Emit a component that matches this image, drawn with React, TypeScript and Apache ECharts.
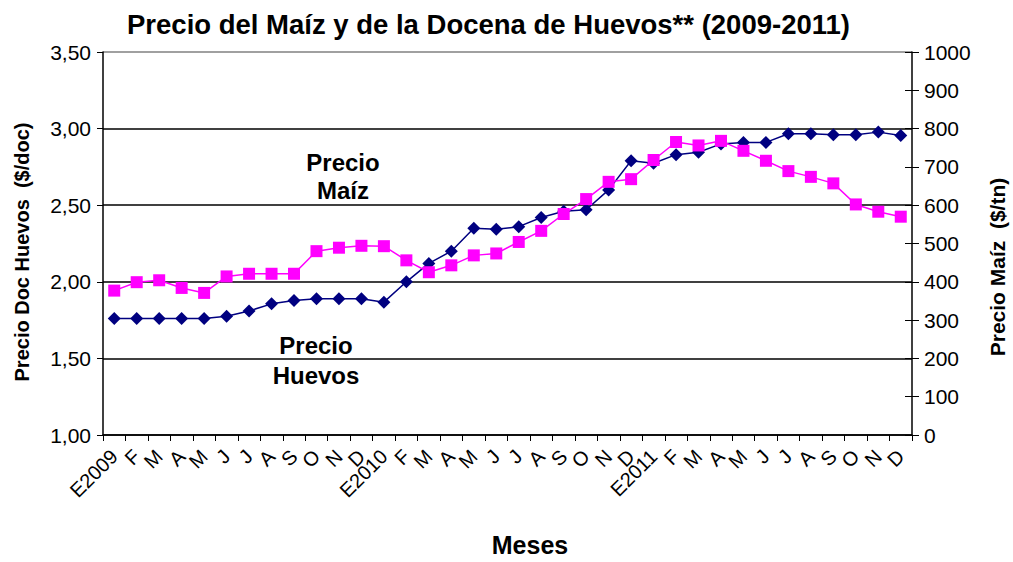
import React, { useEffect, useRef } from "react";
import * as echarts from "echarts";

const months = [
  "E2009", "F", "M", "A", "M", "J", "J", "A", "S", "O", "N", "D",
  "E2010", "F", "M", "A", "M", "J", "J", "A", "S", "O", "N", "D",
  "E2011", "F", "M", "A", "M", "J", "J", "A", "S", "O", "N", "D",
];

const eggPrice = [
  1.76, 1.76, 1.76, 1.76, 1.76, 1.775, 1.81, 1.856, 1.878, 1.89, 1.89, 1.89,
  1.867, 2.0, 2.12, 2.2, 2.35, 2.343, 2.36, 2.42, 2.46, 2.47, 2.6, 2.79,
  2.774, 2.83, 2.846, 2.9, 2.91, 2.91, 2.966, 2.966, 2.96, 2.96, 2.977, 2.955,
];

const cornPrice = [
  377, 399, 404, 384, 371, 414, 421, 421, 421, 480, 489, 494,
  493, 456, 425, 443, 469, 474, 504, 533, 577, 616, 661, 668,
  718, 765, 756, 768, 742, 716, 689, 674, 657, 602, 583, 570,
];

const leftTicks = { min: 1, max: 3.5, interval: 0.5 };
const rightTicks = { min: 0, max: 1000, interval: 100 };

export default function App() {
  const ref = useRef<HTMLDivElement>(null);
  useEffect(() => {
    if (!ref.current) return;
    const chart = echarts.init(ref.current, undefined, { renderer: "svg" });
    const font = "Liberation Sans, Arial, sans-serif";
    chart.setOption({
      animation: false,
      backgroundColor: "#ffffff",
      textStyle: { fontFamily: font },
      title: {
        text: "Precio del Maíz y de la Docena de Huevos** (2009-2011)",
        left: 122,
        top: 5,
        textStyle: { fontFamily: font, fontSize: 27.5, fontWeight: "bold", color: "#000" },
      },
      grid: { left: 103, right: 101, top: 52, bottom: 127 },
      xAxis: {
        type: "category",
        data: months,
        boundaryGap: true,
        axisLine: { lineStyle: { color: "#000", width: 1.5 } },
        axisTick: { show: true, alignWithLabel: false, length: 6, lineStyle: { color: "#000" } },
        axisLabel: {
          interval: 0,
          rotate: 45,
          fontSize: 20,
          color: "#000",
          fontFamily: font,
          margin: 18,
        },
      },
      yAxis: [
        {
          type: "value",
          position: "left",
          ...leftTicks,
          axisLine: { show: true, lineStyle: { color: "#000", width: 1.5 } },
          axisTick: { show: true, length: 6, lineStyle: { color: "#000" } },
          axisLabel: {
            fontSize: 21,
            color: "#000",
            margin: 12,
            formatter: (v: number) => v.toFixed(2).replace(".", ","),
          },
          splitLine: {
            show: true,
            lineStyle: {
              color: ["#000", "#000", "#000", "#000", "#000", "#808080"],
              width: 1.5,
            },
          },
        },
        {
          type: "value",
          position: "right",
          ...rightTicks,
          axisLine: { show: true, lineStyle: { color: "#000", width: 1.5 } },
          axisTick: { show: true, length: 7, lineStyle: { color: "#000" } },
          axisLabel: { fontSize: 21, color: "#000", margin: 12, formatter: (v: number) => String(v) },
          splitLine: { show: false },
        },
        {
          type: "value",
          position: "right",
          ...rightTicks,
          axisLine: { show: false },
          axisTick: { show: true, inside: true, length: 7, lineStyle: { color: "#000" } },
          axisLabel: { show: false },
          splitLine: { show: false },
        },
      ],
      graphic: [
        {
          type: "text",
          x: 530,
          y: 545,
          style: {
            text: "Meses",
            fontSize: 25,
            fontWeight: "bold",
            fontFamily: font,
            fill: "#000",
            align: "center",
            verticalAlign: "middle",
          },
        },
        {
          type: "text",
          x: 22,
          y: 252,
          rotation: Math.PI / 2,
          style: {
            text: "Precio Doc Huevos  ($/doc)",
            fontSize: 20,
            fontWeight: "bold",
            fontFamily: font,
            fill: "#000",
            align: "center",
            verticalAlign: "middle",
          },
        },
        {
          type: "text",
          x: 997,
          y: 267,
          rotation: Math.PI / 2,
          style: {
            text: "Precio Maíz  ($/tn)",
            fontSize: 21,
            fontWeight: "bold",
            fontFamily: font,
            fill: "#000",
            align: "center",
            verticalAlign: "middle",
          },
        },
        {
          type: "text",
          x: 343,
          y: 176,
          style: {
            text: "Precio\nMaíz",
            fontSize: 24,
            fontWeight: "bold",
            fontFamily: font,
            fill: "#000",
            align: "center",
            verticalAlign: "middle",
            lineHeight: 28,
          },
        },
        {
          type: "text",
          x: 316,
          y: 360,
          style: {
            text: "Precio\nHuevos",
            fontSize: 24,
            fontWeight: "bold",
            fontFamily: font,
            fill: "#000",
            align: "center",
            verticalAlign: "middle",
            lineHeight: 30,
          },
        },
      ],
      series: [
        {
          name: "Precio Huevos",
          type: "line",
          yAxisIndex: 0,
          data: eggPrice,
          symbol: "diamond",
          symbolSize: 13,
          itemStyle: { color: "#000080" },
          lineStyle: { color: "#000080", width: 1.5 },
          z: 3,
        },
        {
          name: "Precio Maíz",
          type: "line",
          yAxisIndex: 1,
          data: cornPrice,
          symbol: "rect",
          symbolSize: 12,
          itemStyle: { color: "#FF00FF" },
          lineStyle: { color: "#FF00FF", width: 1.5 },
          z: 4,
        },
      ],
    });
    return () => chart.dispose();
  }, []);
  return <div ref={ref} style={{ width: 1013, height: 562, position: "absolute", left: 0, top: 0 }} />;
}
